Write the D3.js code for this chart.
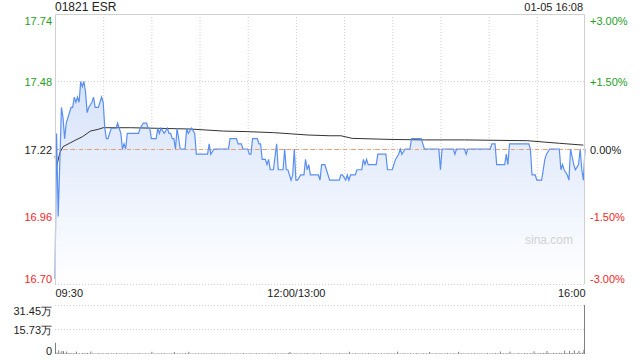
<!DOCTYPE html>
<html><head><meta charset="utf-8">
<script src="https://cdn.jsdelivr.net/npm/d3@7/dist/d3.min.js"></script>
<style>
html,body{margin:0;padding:0;background:#fff;}
svg{display:block;font-family:Arial,"Liberation Sans",sans-serif;}
</style></head><body>
<svg id="c" width="640" height="360"></svg>
<script>
const title = "01821 ESR";
const stamp = "01-05 16:08";
const prevClose = 17.22;
const priceTicks = [17.74, 17.48, 17.22, 16.96, 16.70];
const pctTicks = ["+3.00%", "+1.50%", "0.00%", "-1.50%", "-3.00%"];
const timeTickMinutes = [0, 150, 330];
const timeTickLabels = ["09:30", "12:00/13:00", "16:00"];
const volTicks = [31.45, 15.73, 0];
const volTickLabels = ["31.45万", "15.73万", "0"];

// price line: minute index (0 = 09:30, 150 = 12:00/13:00, 330 = 16:00) and price
const priceMinutes = [0,1,2,4,5,6,7,8,10,11,12,13,14,15,16,17,18,19,20,21,23,24,25,27,29,30,31,32,33,34,35,38,39,40,41,42,43,44,45,52,53,55,57,58,59,60,63,64,65,66,68,70,71,72,73,74,75,76,78,81,82,83,85,87,88,95,96,97,99,108,109,113,114,116,117,120,121,122,123,126,127,128,129,131,132,133,134,136,138,139,142,143,144,145,147,148,149,150,151,153,155,156,157,158,159,164,165,166,168,169,171,177,178,179,181,182,183,184,187,188,191,192,193,194,195,200,201,206,207,210,212,214,215,216,218,221,222,228,230,239,240,241,248,249,250,255,256,257,271,272,274,275,280,281,282,283,295,296,297,299,300,303,304,305,306,308,314,315,316,317,319,320,321,323,324,326,327,328,329,330];
const prices = [16.72,17.28,16.96,17.38,17.34,17.26,17.32,17.34,17.38,17.38,17.42,17.40,17.42,17.40,17.48,17.46,17.48,17.44,17.36,17.38,17.40,17.42,17.38,17.38,17.42,17.40,17.30,17.26,17.26,17.28,17.30,17.30,17.32,17.30,17.28,17.22,17.24,17.22,17.28,17.28,17.30,17.32,17.32,17.30,17.30,17.26,17.26,17.30,17.28,17.30,17.28,17.30,17.28,17.28,17.26,17.26,17.22,17.30,17.22,17.22,17.30,17.28,17.30,17.28,17.20,17.20,17.24,17.20,17.22,17.22,17.26,17.26,17.24,17.24,17.22,17.22,17.20,17.20,17.26,17.26,17.24,17.24,17.18,17.18,17.16,17.18,17.14,17.14,17.24,17.14,17.14,17.22,17.14,17.14,17.10,17.12,17.22,17.10,17.10,17.12,17.12,17.18,17.14,17.16,17.12,17.12,17.10,17.16,17.16,17.14,17.10,17.10,17.12,17.12,17.10,17.12,17.10,17.12,17.12,17.14,17.14,17.18,17.16,17.18,17.16,17.16,17.20,17.20,17.14,17.14,17.18,17.20,17.22,17.20,17.22,17.22,17.26,17.26,17.22,17.22,17.14,17.22,17.22,17.20,17.22,17.22,17.20,17.22,17.22,17.24,17.24,17.16,17.16,17.20,17.16,17.24,17.24,17.22,17.12,17.12,17.10,17.10,17.14,17.18,17.20,17.22,17.22,17.14,17.16,17.14,17.12,17.10,17.22,17.16,17.14,17.16,17.22,17.14,17.10,17.22];

// average price line
const avgMinutes = [0,1,3,5,9,13,17,20,22,27,30,47,84,105,119,136,148,157,171,178,185,208,230,255,294,314,329];
const avgPrices = [17.193,17.152,17.205,17.229,17.242,17.255,17.267,17.280,17.289,17.296,17.302,17.302,17.297,17.289,17.287,17.283,17.278,17.274,17.271,17.271,17.261,17.257,17.255,17.255,17.252,17.242,17.235];

// volume per minute, 万 shares
const volumes = [
7.2,0.9,2.4,0.8,2.0,1.8,0.6,1.6,0.5,0.7,0.4,0.6,0.5,1.5,0.4,0.5,0.3,0.6,0.4,0.5,0.7,0.3,1.6,0.4,0.5,0.3,0.4,0.6,0.3,0.5,
0.4,0.3,0.6,0.4,0.3,0.5,0.4,0.3,0.6,0.3,0.4,0.5,0.3,0.4,0.3,0.6,0.3,0.4,0.3,0.5,0.3,0.4,0.6,0.3,0.4,0.3,0.5,0.3,0.4,0.3,
1.4,0.3,0.4,0.3,0.5,0.3,0.4,0.3,0.6,0.3,0.4,0.3,0.5,0.3,1.3,0.4,0.3,0.5,0.3,0.4,0.3,0.6,0.3,1.4,0.3,0.4,0.3,0.5,0.3,0.4,
0.3,0.4,0.3,0.5,0.3,0.4,0.3,0.6,0.3,0.4,0.3,0.5,0.3,0.4,0.3,0.6,0.3,0.4,0.3,0.5,0.3,0.4,0.3,0.5,0.3,0.4,0.3,0.6,0.3,0.4,
0.3,0.5,0.3,0.4,0.3,0.6,0.3,0.4,0.3,0.5,0.3,0.4,0.3,0.6,0.3,0.4,0.3,0.5,0.3,0.4,0.3,0.5,0.3,0.4,0.3,0.6,1.3,0.4,0.3,0.5,
0.3,0.4,0.3,0.5,0.3,0.4,0.3,0.6,0.3,0.4,0.3,0.5,0.3,0.4,0.3,0.6,0.3,0.4,0.3,0.5,0.3,0.4,0.3,0.5,0.3,0.4,0.3,0.6,0.3,0.4,
0.3,0.5,0.3,1.4,0.3,0.4,0.3,0.6,0.3,0.4,0.3,0.5,0.3,0.4,0.3,0.6,0.3,0.4,0.3,0.5,0.3,0.4,0.3,0.5,0.3,0.4,0.3,0.6,0.3,0.4,
0.3,0.5,0.3,1.5,0.3,0.4,0.3,0.6,0.3,0.4,0.3,0.5,0.3,0.4,0.3,0.6,0.3,0.4,0.3,0.5,0.3,0.4,0.3,1.3,0.3,0.4,0.3,0.6,0.3,0.4,
0.5,0.3,0.4,0.3,0.6,0.3,0.4,0.3,0.5,0.3,0.4,1.4,0.3,0.6,0.3,0.4,0.3,0.5,0.3,0.4,0.3,0.6,0.3,0.4,0.3,0.5,0.3,0.4,0.3,0.6,
0.3,0.4,0.5,0.3,0.6,0.4,0.3,1.6,0.4,0.5,0.3,0.6,0.4,1.5,0.3,0.5,0.4,0.3,0.6,0.4,0.5,0.3,0.6,0.4,0.5,0.3,0.6,0.4,1.8,0.5,
0.4,0.6,0.5,0.4,0.7,0.5,2.0,0.6,0.5,0.4,0.7,0.5,0.6,0.4,0.8,0.6,0.5,2.2,0.6,0.5,2.0,0.7,0.6,2.4,0.6,0.8,2.1,0.7,0.9,2.6,
31.45];

const GREEN = "#23a023", RED = "#ee2828", GRID = "#cfcfcf";
const svg = d3.select("#c");
const L = 55, R = 585, T = 14, B = 284, VT = 305, VB = 354;

const x = d3.scaleLinear().domain([0, 330]).range([L, R]);
const y = d3.scaleLinear().domain([16.70, 17.74]).range([B, T]);
const yv = d3.scaleLinear().domain([0, 31.45]).range([VB, VT]);

const defs = svg.append("defs");
const grad = defs.append("linearGradient").attr("id", "fillg").attr("x1", 0).attr("y1", 0).attr("x2", 0).attr("y2", 1);
grad.append("stop").attr("offset", "0%").attr("stop-color", "#d6e3fa");
grad.append("stop").attr("offset", "100%").attr("stop-color", "#ffffff");

// grids
const gridMin = d3.range(30, 330, 30);
svg.append("g").selectAll("line").data(gridMin).join("line")
  .attr("x1", d => x(d) + 0.5).attr("x2", d => x(d) + 0.5).attr("y1", T).attr("y2", B)
  .attr("stroke", GRID).attr("stroke-dasharray", "1,2");
svg.append("g").selectAll("line").data([17.48, 16.96, 16.70]).join("line")
  .attr("x1", L).attr("x2", R).attr("y1", d => Math.round(y(d)) + 0.5).attr("y2", d => Math.round(y(d)) + 0.5)
  .attr("stroke", GRID).attr("stroke-dasharray", "1,2");

// area + line
const pts = priceMinutes.map((m, i) => [m, prices[i]]);
svg.append("path").datum(pts)
  .attr("d", d3.area().x(d => x(d[0])).y0(B).y1(d => y(d[1])))
  .attr("fill", "url(#fillg)");

// previous close line
const pcY = Math.round(y(prevClose)) + 0.5;
svg.append("line").attr("x1", L).attr("x2", R).attr("y1", pcY).attr("y2", pcY)
  .attr("stroke", "#bbbbbb").attr("stroke-dasharray", "1,2");
svg.append("line").attr("x1", L).attr("x2", R).attr("y1", pcY).attr("y2", pcY)
  .attr("stroke", "#f09a70").attr("stroke-dasharray", "4,4");

svg.append("path").datum(avgMinutes.map((m, i) => [m, avgPrices[i]]))
  .attr("d", d3.line().x(d => x(d[0])).y(d => y(d[1])))
  .attr("fill", "none").attr("stroke", "#333").attr("stroke-width", 1);

svg.append("path").datum(pts)
  .attr("d", d3.line().x(d => x(d[0])).y(d => y(d[1])))
  .attr("fill", "none").attr("stroke", "#5a8ff0").attr("stroke-width", 1.2);

// frame
svg.append("path").attr("d", `M${L + 0.5},${B}V${T + 0.5}H${R - 0.5}V${B}`)
  .attr("fill", "none").attr("stroke", "#d0d0d0");

// watermark
svg.append("text").attr("x", 573).attr("y", 244).attr("text-anchor", "end")
  .attr("font-size", 12).attr("fill", "#d2d2d2").text("sina.com");

// left price axis
const colorOf = (i) => i < 2 ? GREEN : (i === 2 ? "#222" : RED);
const offs = [6, 0, 0, 0, -6];
const axL = svg.append("g").attr("transform", `translate(${L - 3},0)`)
  .call(d3.axisLeft(y).tickValues(priceTicks).tickSize(0).tickPadding(0).tickFormat(d3.format(".2f")));
axL.select(".domain").remove();
axL.selectAll("text").attr("font-size", 11).attr("font-family", "Arial,'Liberation Sans',sans-serif")
  .attr("fill", (d, i) => colorOf(i)).attr("dy", (d, i) => (offs[i] + 4) + "px");

// right pct axis
const axR = svg.append("g").attr("transform", `translate(${R + 5},0)`)
  .call(d3.axisRight(y).tickValues(priceTicks).tickSize(0).tickPadding(0).tickFormat((d, i) => pctTicks[i]));
axR.select(".domain").remove();
axR.selectAll("text").attr("font-size", 11).attr("font-family", "Arial,'Liberation Sans',sans-serif")
  .attr("fill", (d, i) => colorOf(i)).attr("dy", (d, i) => (offs[i] + 4) + "px");

// time axis
const anchors = ["start", "middle", "end"];
const axB = svg.append("g").attr("transform", `translate(0,${B})`)
  .call(d3.axisBottom(x).tickValues(timeTickMinutes).tickSize(0).tickPadding(0).tickFormat((d, i) => timeTickLabels[i]));
axB.select(".domain").remove();
axB.selectAll("text").attr("font-size", 11).attr("font-family", "Arial,'Liberation Sans',sans-serif")
  .attr("fill", "#222").attr("dy", "13px").attr("text-anchor", (d, i) => anchors[i]);

// title
svg.append("text").attr("x", L).attr("y", 11).attr("font-size", 12).attr("fill", "#222").text(title);
svg.append("text").attr("x", R - 2).attr("y", 11).attr("text-anchor", "end").attr("font-size", 11).attr("fill", "#222").text(stamp);

// volume panel
svg.append("g").selectAll("line").data([31.45, 15.73]).join("line")
  .attr("x1", L).attr("x2", R).attr("y1", d => Math.round(yv(d)) + 0.5).attr("y2", d => Math.round(yv(d)) + 0.5)
  .attr("stroke", GRID).attr("stroke-dasharray", "1,2");
svg.append("g").selectAll("rect").data(volumes).join("rect")
  .attr("x", (d, i) => Math.min(x(i), R - 1)).attr("width", 1)
  .attr("y", d => yv(d)).attr("height", d => VB - yv(d))
  .attr("fill", "#808080");
const vOffs = [5, 0, -4];
const axV = svg.append("g").attr("transform", `translate(${L - 3},0)`)
  .call(d3.axisLeft(yv).tickValues(volTicks).tickSize(0).tickPadding(0).tickFormat((d, i) => volTickLabels[i]));
axV.select(".domain").remove();
axV.selectAll("text").attr("font-size", 11).attr("font-family", "Arial,'Liberation Sans',sans-serif")
  .attr("fill", "#222").attr("dy", (d, i) => (vOffs[i] + 4) + "px");
</script>
</body></html>
